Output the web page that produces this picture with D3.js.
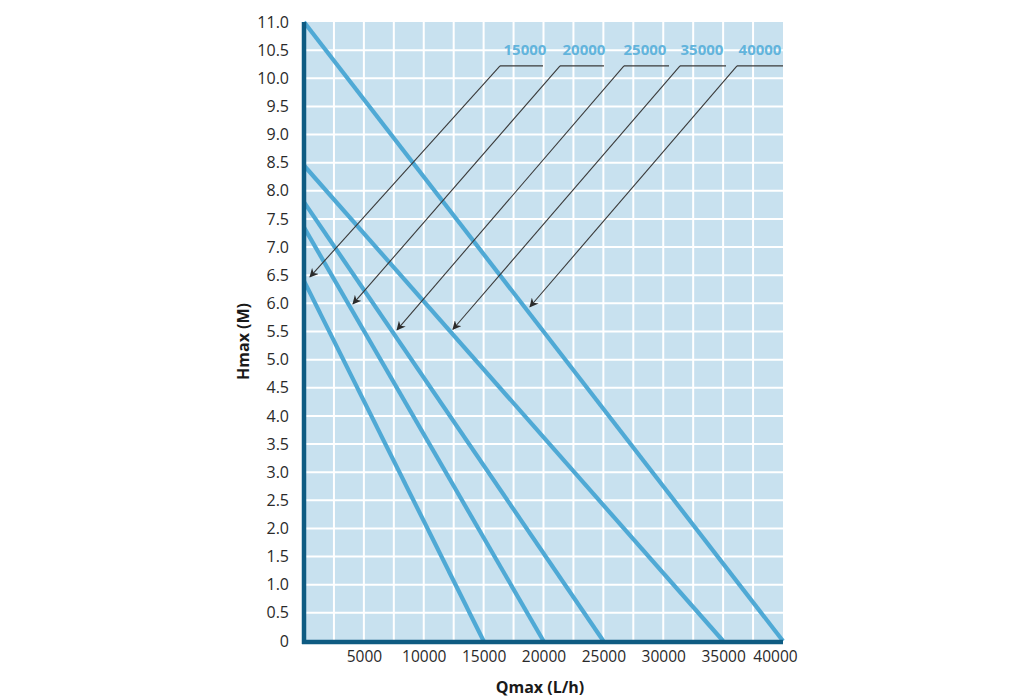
<!DOCTYPE html>
<html>
<head>
<meta charset="utf-8">
<script src="https://cdn.jsdelivr.net/npm/d3@7"></script>
<style>
  html, body { margin: 0; padding: 0; background: #ffffff; }
  svg { display: block; }
  text { font-family: "Open Sans", "Noto Sans", sans-serif; }
</style>
</head>
<body>
<svg id="chart" width="1035" height="700"></svg>
<script>
// ---- data ----
const seriesNames = ["15000", "20000", "25000", "35000", "40000"];
const seriesPoints = {
  "15000": [[0, 6.4], [15000, 0]],
  "20000": [[0, 7.35], [20000, 0]],
  "25000": [[0, 7.8], [25000, 0]],
  "35000": [[0, 8.45], [35000, 0]],
  "40000": [[0, 11.0], [40000, 0]]
};
// annotation: label centre, leader bar start/end, arrow tip (data units)
const labelQ = [18455, 23380, 28475, 33235, 38080];
const labelH = 10.41;
const barStartQ = [16370, 21380, 26720, 31400, 36160];
const barEndQ = [19960, 25050, 30480, 35240, 40000];
const barH = 10.22;
const arrowTipQ = [500, 4090, 7770, 12440, 18870];
const arrowTipH = [6.47, 5.99, 5.53, 5.54, 5.94];
const xTicks = [5000, 10000, 15000, 20000, 25000, 30000, 35000, 40000];
const yTicks = d3.range(0, 23).map(i => i * 0.5);
const xGrid = d3.range(1, 16).map(i => i * 2500);
const yGrid = d3.range(1, 22).map(i => i * 0.5);

// ---- layout ----
const svg = d3.select("#chart");
const pLeft = 304, pRight = 783, pTop = 22, pBottom = 641;
const x = d3.scaleLinear().domain([0, 40000]).range([pLeft, pRight]);
const y = d3.scaleLinear().domain([0, 11]).range([pBottom, pTop]);

const axisColor = "#0e5b82";
const lineColor = "#4fa9d5";
const textColor = "#2a2a2a";

// background
svg.append("rect")
  .attr("x", pLeft).attr("y", pTop)
  .attr("width", pRight - pLeft).attr("height", pBottom - pTop)
  .attr("fill", "#c8e1ef");

// grid
svg.append("g").selectAll("line").data(xGrid).join("line")
  .attr("x1", d => x(d)).attr("x2", d => x(d))
  .attr("y1", pTop).attr("y2", pBottom)
  .attr("stroke", "#ffffff").attr("stroke-width", 2);
svg.append("g").selectAll("line").data(yGrid).join("line")
  .attr("x1", pLeft).attr("x2", pRight)
  .attr("y1", d => y(d)).attr("y2", d => y(d))
  .attr("stroke", "#ffffff").attr("stroke-width", 2);

// series lines
const line = d3.line().x(d => x(d[0])).y(d => y(d[1]));
svg.append("g").selectAll("path").data(seriesNames).join("path")
  .attr("d", n => line(seriesPoints[n]))
  .attr("fill", "none")
  .attr("stroke", lineColor)
  .attr("stroke-width", 4.2);

// arrow marker
svg.append("defs").append("marker")
  .attr("id", "arrow")
  .attr("viewBox", "0 0 10 10")
  .attr("refX", 9).attr("refY", 5)
  .attr("markerWidth", 9).attr("markerHeight", 9)
  .attr("markerUnits", "userSpaceOnUse")
  .attr("orient", "auto")
  .append("path")
  .attr("d", "M0,0 L10,5 L0,10 L3,5 Z")
  .attr("fill", "#2b2b2b");

// leaders
const ann = svg.append("g");
seriesNames.forEach((n, i) => {
  ann.append("line")
    .attr("x1", x(barStartQ[i])).attr("x2", x(barEndQ[i]))
    .attr("y1", y(barH)).attr("y2", y(barH))
    .attr("stroke", "#3a3a3a").attr("stroke-width", 1.1);
  ann.append("line")
    .attr("x1", x(barStartQ[i])).attr("y1", y(barH))
    .attr("x2", x(arrowTipQ[i])).attr("y2", y(arrowTipH[i]))
    .attr("stroke", "#3a3a3a").attr("stroke-width", 1.1)
    .attr("marker-end", "url(#arrow)");
  ann.append("text")
    .attr("x", x(labelQ[i])).attr("y", y(labelH))
    .attr("text-anchor", "middle")
    .attr("font-size", 15).attr("font-weight", "bold")
    .attr("fill", "#62b4dc")
    .text(n);
});

// axes lines
svg.append("line")
  .attr("x1", pLeft).attr("x2", pLeft)
  .attr("y1", pTop).attr("y2", pBottom + 3)
  .attr("stroke", axisColor).attr("stroke-width", 4.5);
svg.append("line")
  .attr("x1", pLeft - 2).attr("x2", pRight)
  .attr("y1", pBottom + 1).attr("y2", pBottom + 1)
  .attr("stroke", axisColor).attr("stroke-width", 4.5);

// y tick labels
const yAxis = d3.axisLeft(y).tickValues(yTicks)
  .tickFormat(d => d === 0 ? "0" : d3.format(".1f")(d))
  .tickSize(0).tickPadding(15);
const gy = svg.append("g").attr("transform", `translate(${pLeft},0)`).call(yAxis);
gy.select(".domain").remove();
gy.selectAll("text").attr("font-size", 16).attr("fill", textColor)
  .attr("font-family", "'Open Sans', sans-serif");

// x tick labels
const xAxis = d3.axisBottom(x).tickValues(xTicks)
  .tickFormat(d3.format("d")).tickSize(0).tickPadding(10);
const gx = svg.append("g").attr("transform", `translate(0,${pBottom})`).call(xAxis);
gx.select(".domain").remove();
gx.selectAll("text").attr("font-size", 15.5).attr("fill", textColor)
  .attr("font-family", "'Open Sans', sans-serif");
gx.selectAll(".tick").filter(d => d === 40000).select("text").attr("dx", -8);

// axis titles
svg.append("text")
  .attr("x", 540).attr("y", 693)
  .attr("text-anchor", "middle")
  .attr("font-size", 16).attr("font-weight", "bold").attr("fill", "#1a1a1a")
  .text("Qmax (L/h)");
svg.append("text")
  .attr("transform", `translate(249,${(pTop + pBottom) / 2 + 10}) rotate(-90)`)
  .attr("text-anchor", "middle")
  .attr("font-size", 16).attr("font-weight", "bold").attr("fill", "#1a1a1a")
  .text("Hmax (M)");
</script>
</body>
</html>
